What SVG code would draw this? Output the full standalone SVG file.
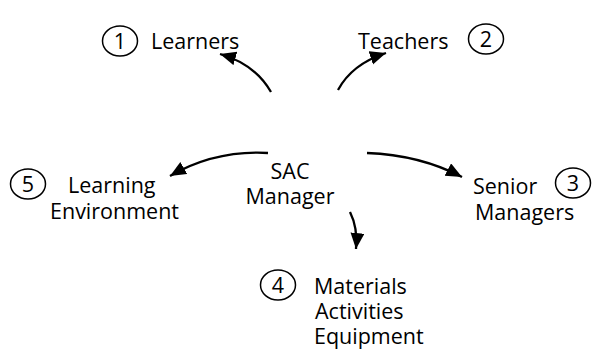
<svg xmlns="http://www.w3.org/2000/svg" width="593" height="360" viewBox="0 0 593 360">
<defs>
<style>
text{font-family:"Open Sans","Liberation Sans",sans-serif;font-size:21.5px;fill:#000}
.c{fill:none;stroke:#000;stroke-width:1.5}
.a{fill:none;stroke:#000;stroke-width:2.3}
</style>
<marker id="ah" markerUnits="userSpaceOnUse" markerWidth="18" markerHeight="16" refX="16" refY="7" orient="auto">
<path d="M0,0 L16,7 L0,14 Z" fill="#000"/>
</marker>
</defs>
<rect width="593" height="360" fill="#fff"/>
<g id="connectors">
<path class="a" d="M271,92 Q255,64 220,54" marker-end="url(#ah)"/>
<path class="a" d="M338,90 Q352,64 386,53" marker-end="url(#ah)"/>
<path class="a" d="M268,153 Q215,150 170,176" marker-end="url(#ah)"/>
<path class="a" d="M367,153 Q420,155 462,177" marker-end="url(#ah)"/>
<path class="a" d="M350,212 Q358,228 356,249" marker-end="url(#ah)"/>
</g>
<g id="sac"><text x="290" y="179" text-anchor="middle">SAC</text><text x="290" y="204" text-anchor="middle">Manager</text></g>
<g id="n1"><ellipse class="c" cx="120" cy="41" rx="17.5" ry="15"/><text x="120" y="49" text-anchor="middle">1</text><text x="151" y="49">Learners</text></g>
<g id="n2"><ellipse class="c" cx="486" cy="39" rx="17.5" ry="15"/><text x="486" y="47" text-anchor="middle">2</text><text x="358" y="49">Teachers</text></g>
<g id="n3"><ellipse class="c" cx="573" cy="183" rx="17.5" ry="15"/><text x="573" y="191" text-anchor="middle">3</text><text x="473" y="194">Senior</text><text x="475" y="220">Managers</text></g>
<g id="n4"><ellipse class="c" cx="278" cy="285" rx="17.5" ry="15"/><text x="278" y="293" text-anchor="middle">4</text><text x="314" y="294">Materials</text><text x="315" y="319">Activities</text><text x="314" y="344">Equipment</text></g>
<g id="n5"><ellipse class="c" cx="28" cy="184" rx="17.5" ry="15"/><text x="28" y="192" text-anchor="middle">5</text><text x="68" y="193">Learning</text><text x="50" y="219">Environment</text></g>
</svg>
